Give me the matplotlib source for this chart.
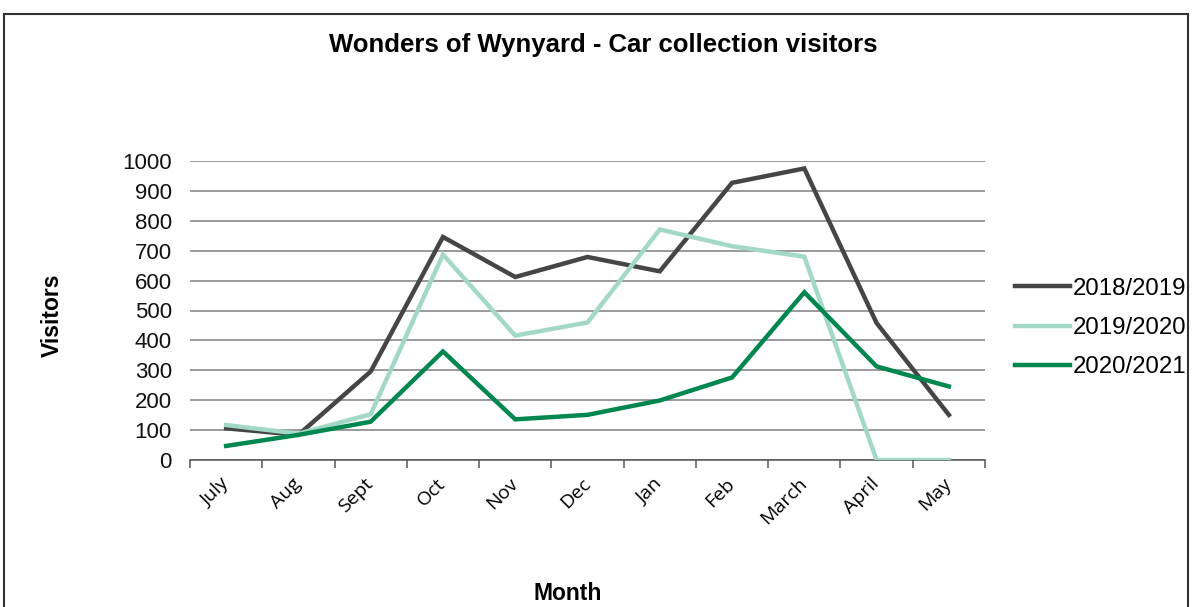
import matplotlib
matplotlib.use("Agg")
import matplotlib.pyplot as plt
from matplotlib.patches import Rectangle
from matplotlib.lines import Line2D

months = ["July", "Aug", "Sept", "Oct", "Nov", "Dec", "Jan", "Feb", "March", "April", "May"]
s2018_2019 = [106, 84, 296, 746, 612, 679, 631, 927, 975, 458, 151]
s2019_2020 = [117, 88, 153, 687, 416, 460, 771, 715, 680, 0, 0]
s2020_2021 = [47, 84, 128, 363, 136, 151, 199, 276, 561, 313, 246]
series_names = ["2018/2019", "2019/2020", "2020/2021"]
colors = ["#454545", "#a3d8c8", "#00874f"]

plt.rcParams['font.family'] = ['Liberation Sans', 'DejaVu Sans']

fig = plt.figure(figsize=(11.96, 6.07), dpi=100)
W, H = 1196, 607
ax = fig.add_axes([190 / W, (H - 460) / H, (985 - 190) / W, (460 - 161) / H])

x = list(range(len(months)))
for vals, c, name in zip([s2018_2019, s2019_2020, s2020_2021], colors, series_names):
    ax.plot(x, vals, color=c, lw=3.2, label=name, solid_joinstyle='miter', zorder=3)

ax.set_xlim(-0.5, len(months) - 0.5)
ax.set_ylim(0, 1000)
ax.set_yticks(range(0, 1001, 100))
ax.tick_params(axis='y', length=0, labelsize=16, pad=13, labelcolor="#111111")
ax.yaxis.grid(True, color="#7f7f7f", lw=1.1)
ax.set_axisbelow(True)

# x ticks: marks between categories, labels centered
ax.set_xticks([i - 0.5 for i in range(len(months) + 1)])
ax.set_xticklabels([])
ax.tick_params(axis='x', which='major', length=6, width=1.1, color="#555555", direction='out')
ax.set_xticks(x, minor=True)
ax.set_xticklabels(months, minor=True, rotation=45, ha='right', va='center',
                   rotation_mode='anchor', fontsize=14, family=['Open Sans', 'DejaVu Sans'])
ax.tick_params(axis='x', which='minor', length=0, pad=15)

for side in ["left", "right", "top"]:
    ax.spines[side].set_visible(False)
ax.spines["bottom"].set_color("#555555")
ax.spines["bottom"].set_linewidth(1.1)

fig.text(603 / W, 1 - 45 / H, "Wonders of Wynyard - Car collection visitors",
         ha='center', va='center', fontsize=18.5, fontweight='bold')
fig.text(52 / W, 1 - 315 / H, "Visitors", rotation=90, ha='center', va='center',
         fontsize=16.5, fontweight='bold')
fig.text(568 / W, 1 - 593 / H, "Month", ha='center', va='center',
         fontsize=16.5, fontweight='bold')

handles = [Line2D([0], [0], color=c, lw=3.2) for c in colors]
leg = fig.legend(handles, series_names, loc='center left',
                 bbox_to_anchor=(1010 / W, 1 - 328 / H), frameon=False,
                 fontsize=17.3, handlelength=2.3, handletextpad=0.12,
                 labelspacing=0.72, borderaxespad=0, borderpad=0.2)

fig.add_artist(Rectangle((4 / W, -0.05), (1188 - 4) / W, 1.05 - 14 / H,
                         transform=fig.transFigure, fill=False,
                         edgecolor="#333333", lw=1.5, clip_on=False))

fig.savefig("out.png", dpi=100)
